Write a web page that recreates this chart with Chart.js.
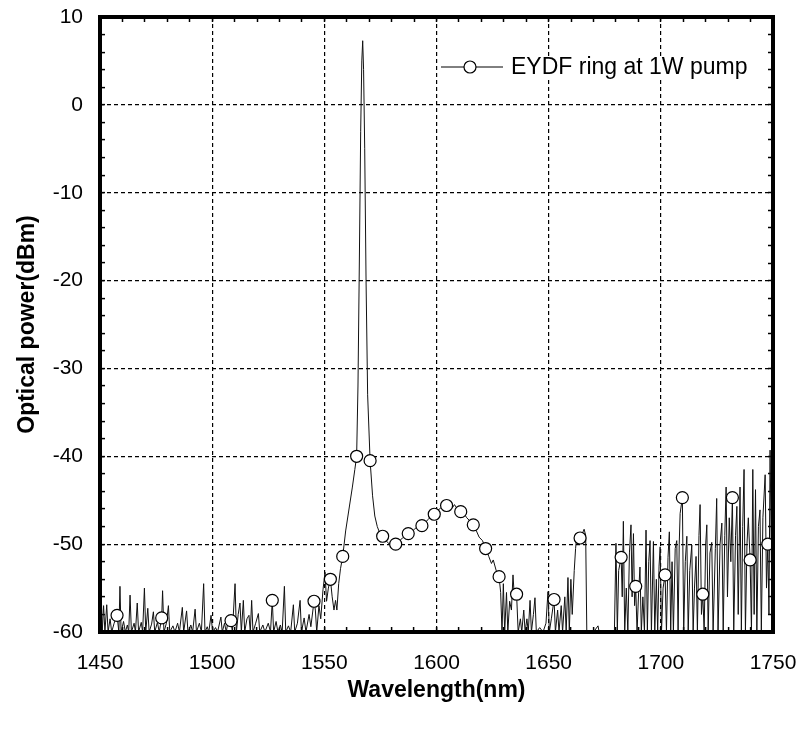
<!DOCTYPE html>
<html lang="en">
<head>
<meta charset="UTF-8">
<title>EYDF ring spectrum</title>
<script src="https://cdn.jsdelivr.net/npm/chart.js"></script>
<style>
  html, body { margin: 0; padding: 0; background: #fff; }
  #wrap { width: 803px; height: 729px; }
</style>
</head>
<body>
<div id="wrap"><canvas id="spectrum" width="803" height="729"></canvas></div>
<script>
// OSA trace of the ring laser output, wavelength in nm and power in dBm
const wavelength = [
  1450.0, 1450.5, 1451.0, 1451.6, 1452.2, 1453.0, 1453.6, 1454.5, 1455.2, 1456.3,
  1457.6, 1458.4, 1458.9, 1459.4, 1460.5, 1461.3, 1462.2, 1462.8, 1463.4, 1464.0,
  1465.2, 1465.8, 1466.6, 1467.2, 1468.4, 1469.0, 1469.8, 1470.4, 1471.3, 1471.9,
  1473.0, 1473.8, 1474.4, 1475.6, 1476.4, 1477.5, 1477.9, 1478.5, 1479.6, 1480.5,
  1481.1, 1482.5, 1483.4, 1484.6, 1485.4, 1486.7, 1487.3, 1488.6, 1489.2, 1490.5,
  1491.3, 1492.4, 1493.0, 1494.3, 1495.2, 1496.2, 1496.8, 1497.8, 1498.5, 1499.5,
  1500.2, 1501.5, 1502.4, 1503.9, 1504.5, 1505.5, 1506.3, 1507.2, 1508.4, 1509.0,
  1510.2, 1510.8, 1511.6, 1512.4, 1513.0, 1513.9, 1514.5, 1515.5, 1516.4, 1517.0,
  1517.6, 1518.2, 1519.4, 1520.6, 1521.2, 1522.6, 1523.5, 1525.0, 1526.0, 1526.8,
  1527.4, 1528.5, 1529.3, 1530.4, 1531.2, 1532.2, 1532.8, 1534.0, 1535.0, 1536.2,
  1536.8, 1538.0, 1539.2, 1539.8, 1541.0, 1541.8, 1543.2, 1544.0, 1545.4, 1546.0,
  1546.6, 1547.6, 1548.4, 1549.4, 1550.3, 1551.0, 1551.8, 1552.7, 1553.5, 1554.3,
  1555.0, 1555.6, 1556.4, 1557.2, 1558.2, 1559.5, 1561.0, 1562.5, 1563.6, 1564.4,
  1565.0, 1565.6, 1566.2, 1566.7, 1567.1, 1567.5, 1568.0, 1568.6, 1569.3, 1570.4,
  1571.5, 1572.5, 1573.6, 1574.8, 1576.0, 1577.5, 1579.0, 1580.2, 1581.8, 1583.3,
  1584.8, 1586.0, 1587.4, 1589.0, 1590.5, 1592.0, 1593.5, 1595.0, 1596.3, 1597.6,
  1599.0, 1600.4, 1601.8, 1603.1, 1604.5, 1606.0, 1607.0, 1608.0, 1609.3, 1610.8,
  1612.2, 1613.5, 1615.0, 1616.4, 1617.8, 1619.0, 1620.5, 1621.9, 1623.3, 1624.5,
  1625.3, 1626.6, 1627.9, 1628.6, 1629.2, 1629.8, 1630.4, 1631.2, 1631.8, 1632.6,
  1633.4, 1634.1, 1634.7, 1635.7, 1636.4, 1637.4, 1638.0, 1638.9, 1639.5, 1640.3,
  1640.9, 1641.7, 1642.3, 1643.2, 1643.9, 1644.5, 1646.0, 1647.5, 1648.8, 1649.7,
  1650.3, 1651.2, 1652.4, 1653.0, 1654.0, 1654.6, 1655.6, 1656.2, 1657.2, 1657.8,
  1658.6, 1659.2, 1659.9, 1660.5, 1661.4, 1662.0, 1662.5, 1663.2, 1664.0, 1665.0,
  1665.8, 1666.5, 1667.0, 1670.0, 1672.0, 1672.5, 1676.0, 1679.3, 1680.0, 1680.6,
  1681.2, 1682.3, 1682.8, 1683.3, 1683.9, 1684.6, 1685.3, 1686.0, 1686.7, 1687.2,
  1687.8, 1688.3, 1688.8, 1689.4, 1690.1, 1690.7, 1691.3, 1692.0, 1692.7, 1693.4,
  1694.0, 1694.6, 1695.2, 1695.8, 1696.7, 1697.3, 1698.0, 1698.6, 1699.2, 1699.7,
  1700.3, 1701.0, 1701.9, 1702.5, 1703.2, 1703.8, 1704.4, 1705.0, 1705.6, 1706.4,
  1707.1, 1707.7, 1708.2, 1708.6, 1709.6, 1710.2, 1710.9, 1711.6, 1712.2, 1712.9,
  1713.8, 1714.4, 1715.0, 1715.7, 1716.3, 1717.0, 1717.5, 1718.1, 1718.7, 1719.3,
  1720.0, 1720.5, 1721.1, 1721.9, 1722.7, 1723.3, 1724.3, 1724.9, 1725.5, 1726.4,
  1727.2, 1727.8, 1728.5, 1729.1, 1729.7, 1730.5, 1731.2, 1731.9, 1732.5, 1733.3,
  1733.9, 1734.5, 1735.3, 1735.9, 1736.5, 1737.1, 1737.7, 1738.4, 1739.0, 1739.8,
  1740.4, 1741.0, 1741.6, 1742.2, 1742.8, 1743.5, 1744.2, 1744.8, 1745.5, 1746.5,
  1747.1, 1747.7, 1748.2, 1748.7, 1749.3, 1750.0
];
const power = [
  -60, -55.0, -60, -57.0, -60, -56.9, -60, -58.5, -60, -59.0,
  -58.1, -60, -54.8, -60, -58.8, -60, -59.2, -60, -55.8, -60,
  -59.0, -60, -56.7, -60, -58.9, -60, -55.0, -60, -57.3, -60,
  -59.1, -57.7, -60, -58.9, -60, -58.4, -55.3, -60, -59.0, -57.0,
  -60, -59.3, -60, -59.0, -60, -57.2, -60, -57.6, -60, -59.2,
  -60, -57.4, -60, -59.0, -60, -54.5, -60, -59.4, -60, -58.1,
  -60, -59.5, -60, -58.3, -60, -59.0, -60, -58.5, -58.7, -60,
  -54.5, -60, -58.0, -56.7, -60, -56.4, -60, -58.5, -58.1, -60,
  -56.4, -60, -59.0, -57.9, -60, -59.2, -60, -59.0, -60, -56.4,
  -60, -58.8, -60, -59.2, -60, -54.8, -60, -59.3, -60, -56.9,
  -60, -59.0, -56.4, -60, -58.4, -60, -58.0, -59.4, -56.5, -57.5,
  -60, -57.0, -58.5, -55.2, -53.2, -56.5, -55.0, -54.0, -56.0, -57.5,
  -56.4, -57.5, -54.5, -52.8, -51.4, -48.5, -46.0, -43.5, -41.5, -40.0,
  -32.0, -18.0, -3.0, 5.0, 7.3, 4.0, -5.0, -20.0, -33.0, -40.5,
  -44.5, -46.8, -48.0, -48.8, -49.1, -49.6, -50.0, -50.3, -50.0, -49.7,
  -49.3, -49.0, -48.8, -48.6, -48.2, -48.1, -47.9, -47.5, -47.2, -46.8,
  -46.6, -46.2, -45.9, -45.7, -45.6, -45.5, -45.9, -45.5, -46.0, -46.3,
  -46.5, -47.0, -47.4, -47.8, -48.5, -49.2, -49.6, -50.5, -51.4, -52.2,
  -51.8, -53.0, -53.7, -55.5, -60, -54.5, -60, -55.5, -60, -56.5,
  -57.5, -53.5, -56.0, -55.7, -60, -58.5, -60, -57.5, -60, -58.5,
  -60, -56.4, -60, -58.0, -56.1, -60, -59.5, -60, -59.0, -55.4,
  -60, -58.5, -56.3, -60, -57.5, -60, -57.0, -60, -56.0, -60,
  -53.8, -60, -54.0, -58.0, -53.0, -50.5, -49.1, -49.0, -49.3, -48.8,
  -48.3, -49.0, -60, -60, -59.3, -60, -60, -60, -49.9, -60,
  -53.0, -51.5, -56.0, -47.4, -60, -55.0, -60, -51.0, -47.8, -56.0,
  -48.8, -57.0, -54.8, -60, -55.5, -52.6, -60, -56.0, -60, -48.4,
  -60, -52.0, -49.6, -60, -49.7, -60, -54.0, -60, -52.5, -50.3,
  -60, -55.0, -53.5, -60, -51.5, -48.6, -60, -52.0, -60, -50.5,
  -49.6, -60, -50.0, -46.5, -44.7, -60, -52.0, -49.1, -60, -53.0,
  -50.1, -60, -55.0, -51.4, -60, -49.0, -45.5, -58.0, -55.7, -60,
  -50.0, -47.8, -60, -51.0, -49.8, -60, -50.5, -44.8, -60, -50.0,
  -47.6, -60, -49.0, -43.5, -56.0, -47.0, -52.0, -44.7, -60, -49.0,
  -45.7, -58.0, -43.5, -60, -48.0, -41.5, -60, -50.0, -47.0, -51.8,
  -60, -41.5, -58.0, -43.8, -60, -48.0, -46.1, -60, -47.0, -42.1,
  -55.0, -50.0, -58.0, -39.3, -52.0, -39.0
];

// open-circle symbols placed along the trace
const markerNm = [
  1457.6, 1477.5, 1508.4, 1526.8, 1545.4, 1552.7, 1558.2, 1564.4, 1570.4, 1576.0,
  1581.8, 1587.4, 1593.5, 1599.0, 1604.5, 1610.8, 1616.4, 1621.9, 1627.9, 1635.7,
  1652.4, 1664.0, 1682.3, 1688.8, 1701.9, 1709.6, 1718.7, 1731.9, 1739.8, 1747.7
];
const markerDb = [
  -58.1, -58.4, -58.7, -56.4, -56.5, -54.0, -51.4, -40.0, -40.5, -49.1,
  -50.0, -48.8, -47.9, -46.6, -45.6, -46.3, -47.8, -50.5, -53.7, -55.7,
  -56.3, -49.3, -51.5, -54.8, -53.5, -44.7, -55.7, -44.7, -51.8, -50.0
];

const xLabelTicks = [1450, 1500, 1550, 1600, 1650, 1700, 1750];
const yLabelTicks = [10, 0, -10, -20, -30, -40, -50, -60];
const seriesName = 'EYDF ring at 1W pump';

const FONT = '"Liberation Sans", Arial, Helvetica, sans-serif';

function isLabelled(v, list) {
  const r = Math.round(v);
  return Math.abs(v - r) < 1e-6 && list.includes(r);
}

// dashed grid only at labelled ticks, never on the frame itself
function gridColor(ctx, list) {
  if (!ctx.tick) return 'rgba(0,0,0,0)';
  const v = ctx.tick.value;
  const inner = v !== list[0] && v !== list[list.length - 1];
  return inner && isLabelled(v, list) ? '#000' : 'rgba(0,0,0,0)';
}

// fixed box sizes so the plot area sits where it should
function fixWidth(w) {
  return s => { s.width = w; s.paddingTop = 0; s.paddingBottom = 0; };
}
function fixHeight(h) {
  return s => { s.height = h; s.paddingLeft = 0; s.paddingRight = 0; };
}

const traceSet = {
  label: seriesName,
  data: wavelength.map((x, i) => ({ x: x, y: power[i] })),
  showLine: true,
  borderColor: '#111',
  borderWidth: 1,
  pointRadius: 0,
  pointHoverRadius: 0,
  order: 2
};

const markerSet = {
  label: seriesName + ' symbols',
  data: markerNm.map((x, i) => ({ x: x, y: markerDb[i] })),
  showLine: false,
  pointStyle: 'circle',
  pointRadius: 6,
  pointBackgroundColor: '#fff',
  pointBorderColor: '#000',
  pointBorderWidth: 1.2,
  order: 1
};

// series key: short line with a circle, text to the right
const seriesKey = {
  id: 'seriesKey',
  afterDatasetsDraw(chart) {
    const { ctx, chartArea: a } = chart;
    const x0 = a.right - 332;
    const y = a.top + 50;
    ctx.save();
    ctx.font = '23px ' + FONT;
    const tw = ctx.measureText(seriesName).width;
    ctx.fillStyle = '#fff';
    ctx.fillRect(x0 - 2, y - 11, 72 + tw, 22);
    ctx.strokeStyle = '#000';
    ctx.lineWidth = 1;
    ctx.beginPath();
    ctx.moveTo(x0, y);
    ctx.lineTo(x0 + 62, y);
    ctx.stroke();
    ctx.beginPath();
    ctx.arc(x0 + 29, y, 6, 0, Math.PI * 2);
    ctx.fillStyle = '#fff';
    ctx.fill();
    ctx.lineWidth = 1.2;
    ctx.stroke();
    ctx.fillStyle = '#000';
    ctx.textBaseline = 'middle';
    ctx.textAlign = 'left';
    ctx.fillText(seriesName, x0 + 70, y + 1);
    ctx.restore();
  }
};

// heavy box round the plot area
const plotFrame = {
  id: 'plotFrame',
  afterDraw(chart) {
    const { ctx, chartArea: a } = chart;
    ctx.save();
    ctx.strokeStyle = '#000';
    ctx.lineWidth = 4;
    ctx.strokeRect(a.left, a.top, a.right - a.left, a.bottom - a.top);
    ctx.restore();
  }
};

const tickFont = { family: FONT, size: 21 };
const titleFont = { family: FONT, size: 23, weight: 'bold' };

new Chart(document.getElementById('spectrum'), {
  type: 'scatter',
  data: { datasets: [markerSet, traceSet] },
  options: {
    responsive: false,
    animation: false,
    events: [],
    layout: { padding: { top: 17, right: 30, left: 0, bottom: 0 } },
    plugins: {
      legend: { display: false },
      tooltip: { enabled: false }
    },
    scales: {
      x: {
        type: 'linear',
        position: 'bottom',
        min: 1450,
        max: 1750,
        ticks: {
          stepSize: 10,
          autoSkip: false,
          maxRotation: 0,
          minRotation: 0,
          padding: 24,
          color: '#000',
          font: tickFont,
          callback: v => isLabelled(v, xLabelTicks) ? String(Math.round(v)) : ''
        },
        grid: {
          color: ctx => gridColor(ctx, xLabelTicks),
          lineWidth: 1.2,
          tickLength: -5,
          tickColor: '#000',
          tickWidth: 1.5
        },
        border: { display: false, dash: [4, 3] },
        title: {
          display: true,
          text: 'Wavelength(nm)',
          color: '#000',
          font: titleFont,
          padding: { top: 0, bottom: 25 }
        },
        afterFit: fixHeight(97)
      },
      x2: {
        type: 'linear',
        position: 'top',
        min: 1450,
        max: 1750,
        ticks: { display: false, stepSize: 10, autoSkip: false },
        grid: { drawOnChartArea: false, tickLength: -5, tickColor: '#000', tickWidth: 1.5 },
        border: { display: false },
        afterFit: fixHeight(0)
      },
      y: {
        type: 'linear',
        position: 'left',
        min: -60,
        max: 10,
        ticks: {
          stepSize: 2,
          autoSkip: false,
          padding: 22,
          color: '#000',
          font: tickFont,
          callback: v => isLabelled(v, yLabelTicks) ? String(Math.round(v)) : ''
        },
        grid: {
          color: ctx => gridColor(ctx, yLabelTicks),
          lineWidth: 1.2,
          tickLength: -5,
          tickColor: '#000',
          tickWidth: 1.5
        },
        border: { display: false, dash: [4, 3] },
        title: {
          display: true,
          text: 'Optical power(dBm)',
          color: '#000',
          font: titleFont,
          padding: { top: 14, bottom: 0 }
        },
        afterFit: fixWidth(100)
      },
      y2: {
        type: 'linear',
        position: 'right',
        min: -60,
        max: 10,
        ticks: { display: false, stepSize: 2, autoSkip: false },
        grid: { drawOnChartArea: false, tickLength: -5, tickColor: '#000', tickWidth: 1.5 },
        border: { display: false },
        afterFit: fixWidth(0)
      }
    }
  },
  plugins: [seriesKey, plotFrame]
});
</script>
</body>
</html>
